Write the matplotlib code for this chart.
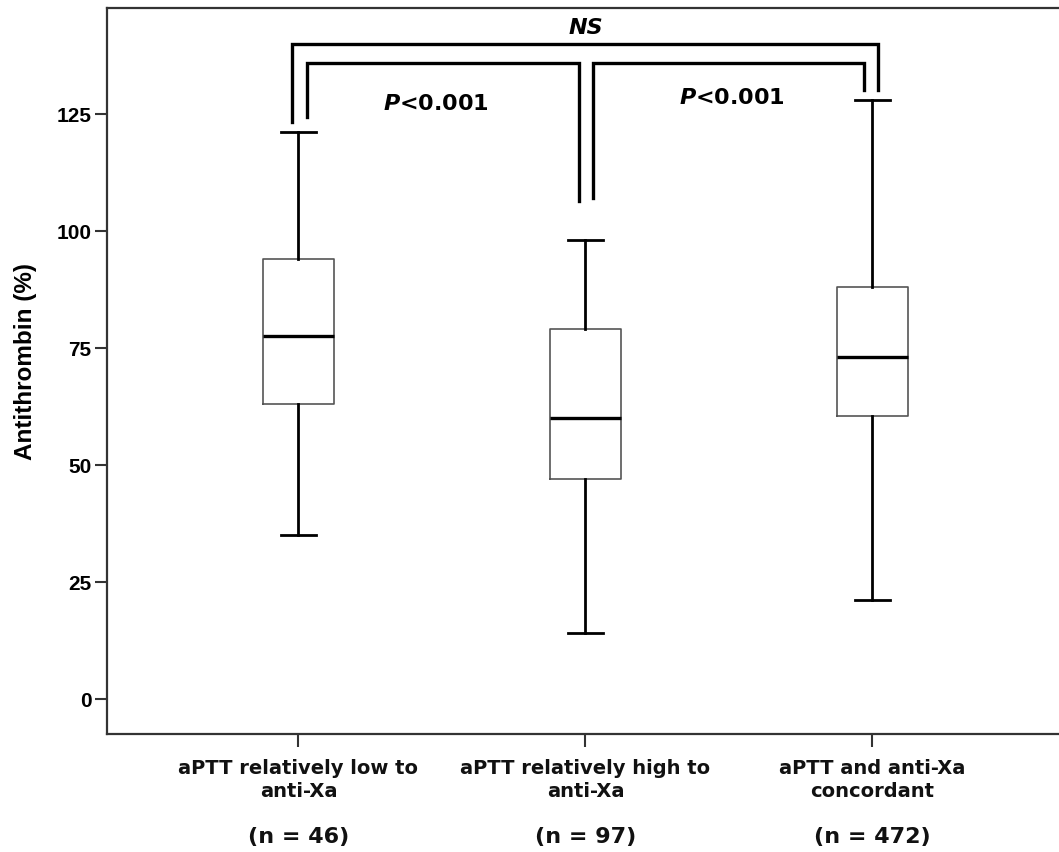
import matplotlib
matplotlib.use("Agg")
import matplotlib.pyplot as plt

plt.rcParams['font.family'] = ['Liberation Sans', 'DejaVu Sans']
plt.rcParams['mathtext.fontset'] = 'custom'
plt.rcParams['mathtext.it'] = 'DejaVu Sans:italic:bold'

groups = ["aPTT relatively low to\nanti-Xa", "aPTT relatively high to\nanti-Xa", "aPTT and anti-Xa\nconcordant"]
n_labels = ["(n = 46)", "(n = 97)", "(n = 472)"]
medians = [77.5, 60, 73]
q1 = [63, 47, 60.5]
q3 = [94, 79, 88]
whislo = [35, 14, 21]
whishi = [121, 98, 128]

stats = []
for i in range(len(groups)):
    stats.append(dict(med=medians[i], q1=q1[i], q3=q3[i], whislo=whislo[i], whishi=whishi[i], fliers=[]))

fig = plt.figure(figsize=(10.59, 8.53), dpi=100)
ax = fig.add_axes([0.101, 0.138, 0.899, 0.851])

pos = [1, 2, 3]
ax.bxp(stats, positions=pos, widths=0.25, capwidths=0.122, showfliers=False,
       boxprops=dict(color='#555555', linewidth=1.2),
       medianprops=dict(color='black', linewidth=2.4),
       whiskerprops=dict(color='black', linewidth=2),
       capprops=dict(color='black', linewidth=2))

ax.set_xlim(0.333, 3.65)
ax.set_ylim(-7.6, 147.5)
ax.set_yticks([0, 25, 50, 75, 100, 125])
ax.set_xticks(pos)
ax.set_xticklabels(groups, fontsize=14, fontweight='bold', linespacing=1.3,
                   family='DejaVu Sans', color='#111111')
ax.tick_params(axis='y', labelsize=15, length=9, width=1.5, color='#333333', pad=2)
ax.tick_params(axis='x', length=9, width=1.5, color='#333333', pad=8)
for lab in ax.get_yticklabels():
    lab.set_fontweight('bold')
for s in ['left', 'top', 'bottom']:
    ax.spines[s].set_linewidth(1.6)
    ax.spines[s].set_color('#333333')
ax.spines['right'].set_visible(False)

ax.set_ylabel("Antithrombin (%)", fontsize=17.5, fontweight='bold')
ax.yaxis.set_label_coords(-0.074, 0.515)

for x, t in zip(pos, n_labels):
    ax.text(x, -0.14, t, transform=ax.get_xaxis_transform(), ha='center', va='center',
            fontsize=16, fontweight='bold', family='DejaVu Sans', color='#111111')

# significance brackets
lw = 2.4
ax.plot([0.979, 0.979, 3.021, 3.021], [123.2, 139.9, 139.9, 130.0], color='black', lw=lw, solid_joinstyle='miter')
ax.plot([1.031, 1.031, 1.977, 1.977], [124.3, 135.9, 135.9, 106.3], color='black', lw=lw, solid_joinstyle='miter')
ax.plot([2.026, 2.026, 2.972, 2.972], [107.0, 135.9, 135.9, 130.0], color='black', lw=lw, solid_joinstyle='miter')

ax.text(2.0, 143.6, "NS", ha='center', va='center', fontsize=16, fontweight='bold',
        style='italic', family='DejaVu Sans')
ax.text(1.48, 127.2, r"$P$<0.001", ha='center', va='center', fontsize=16, fontweight='bold', family='DejaVu Sans')
ax.text(2.51, 128.6, r"$P$<0.001", ha='center', va='center', fontsize=16, fontweight='bold', family='DejaVu Sans')

fig.savefig("out.png", dpi=100)
